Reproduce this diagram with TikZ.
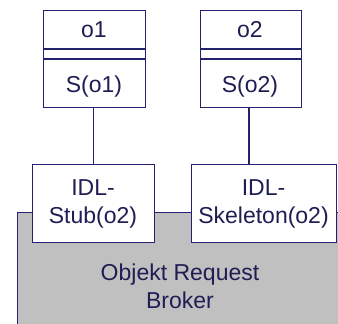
\documentclass[tikz,border=0pt]{standalone}
\usepackage{fontspec}
\setmainfont{Liberation Sans}
\definecolor{navy}{HTML}{22226E}
\definecolor{txt}{HTML}{1E1E55}
\definecolor{orbgray}{HTML}{C0C0C0}
\begin{document}
\begin{tikzpicture}[x=1pt,y=-1pt,
  lbl/.style={inner sep=0pt, text=txt, font=\fontsize{23}{28}\selectfont, align=center},
  boxr/.style={draw=navy, line width=1.3pt, fill=white, inner sep=0pt, anchor=north west},
  conn/.style={draw=navy, line width=1.3pt}]
\useasboundingbox (0,0) rectangle (338,324);
\clip (0,0) rectangle (338,324);
\fill[white] (0,0) rectangle (338,324);
% ORB
\node[draw=navy, line width=1.3pt, fill=orbgray, inner sep=0pt, anchor=north west,
  minimum width=340, minimum height=130] (orb) at (17,212) {};
\node[lbl] (orbt) at (180,286) {Objekt Request\\Broker};
% class boxes
\node[boxr, minimum width=102, minimum height=97] (o1) at (43,10) {};
\node[boxr, minimum width=101, minimum height=97] (o2) at (200,10) {};
\draw[conn] (43,49) -- (145,49) (43,59) -- (145,59);
\draw[conn] (200,49) -- (301,49) (200,59) -- (301,59);
\node[lbl] (o1n) at (94,30) {o1};
\node[lbl] (o1s) at (94,87) {S(o1)};
\node[lbl] (o2n) at (250,30) {o2};
\node[lbl] (o2s) at (250,87) {S(o2)};
% IDL boxes
\node[boxr, minimum width=122, minimum height=78] (stub) at (32,164) {};
\node[boxr, minimum width=145, minimum height=78] (skel) at (191,164) {};
\node[lbl] (stubt) at (93,204) {IDL-\\Stub(o2)};
\node[lbl] (skelt) at (263.5,204) {IDL-\\Skeleton(o2)};
% connectors
\draw[conn] (o1.south -| stub.north) -- (stub.north);
\draw[conn] (o2.south -| 249,0) -- (skel.north -| 249,0);
\end{tikzpicture}
\end{document}
